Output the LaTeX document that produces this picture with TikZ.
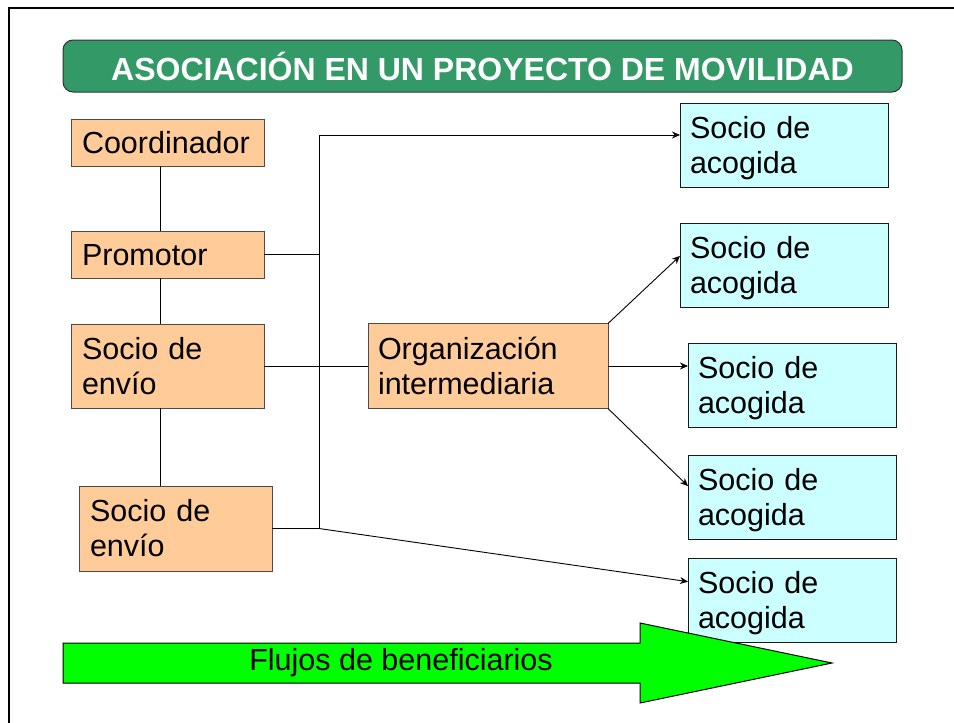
\documentclass[tikz,border=0pt]{standalone}
\usepackage{fontspec}
\setmainfont{Liberation Sans}
\usetikzlibrary{positioning,arrows.meta}

\definecolor{titleGreen}{RGB}{51,153,102}
\definecolor{partnerOrange}{RGB}{255,204,153}
\definecolor{hostCyan}{RGB}{204,255,255}
\definecolor{flowGreen}{RGB}{0,255,0}

\begin{document}
\begin{tikzpicture}[
        x=1pt, y=-1pt,
        font=\fontsize{30.5}{35}\selectfont,
        >={Stealth[length=8pt,width=7pt]},
        every edge/.append style={line width=0.9pt},
        linebox/.style={
            execute at begin node={\rule{0pt}{28pt}},
            execute at end node={\rule[-6.5pt]{0pt}{0pt}}
        },
        heading/.style={
            % The shape
            rectangle,
            rounded corners=10pt,
            minimum width=839pt,
            minimum height=52pt,
            % The border
            line width=1pt,
            draw = black!80,
            % The color
            fill = titleGreen,
            text = white,
            % Font
            font = \bfseries\fontsize{32}{38}\selectfont
        },
        partner/.style={
            % The shape
            rectangle,
            outer sep=0pt,
            inner ysep=0pt,
            inner xsep=11pt,
            text width=171pt,
            minimum height=47pt,
            linebox,
            % The border
            line width=1pt,
            draw = black!70,
            % The color
            fill = partnerOrange
        },
        host/.style={
            % The shape
            rectangle,
            outer sep=0pt,
            inner ysep=0pt,
            inner xsep=10pt,
            text width=188pt,
            minimum height=84pt,
            linebox,
            % The border
            line width=1pt,
            draw = black!90,
            % The color
            fill = hostCyan
        },
    ]
        \useasboundingbox (0,0) rectangle (954,723);
        \draw[line width=2pt] (9,8) rectangle (990,760);

        \node (title) [heading] at (482.5,66) {ASOCIACIÓN EN UN PROYECTO DE MOVILIDAD};

        \node (coordinator) [partner,align=left,anchor=north west] at (71,119) {Coordinador};
        \node (promoter) [partner,align=left,below=65pt of coordinator] {Promotor};
        \node (sendingOne) [partner,align=left,minimum height=84pt,below=46pt of promoter] {Socio de \\ envío};
        \node (sendingTwo) [partner,align=left,minimum height=85pt,below=78pt of sendingOne,xshift=8pt] {Socio de \\ envío};
        \coordinate (trunk) at (160,0);
        \path (coordinator.south -| trunk) edge (promoter.north -| trunk);
        \path (promoter.south -| trunk) edge (sendingOne.north -| trunk);
        \path (sendingOne.south -| trunk) edge (sendingTwo.north -| trunk);

        \node (intermediary) [partner,align=left,text width=220pt,inner xsep=10pt,minimum height=85pt,right=104pt of sendingOne] {Organización \\ intermediaria};

        \node (host_a) [host,align=left,anchor=north west] at (680,103) {Socio de \\ acogida};
        \node (host_b) [host,align=left,below=36pt of host_a] {Socio de \\ acogida};
        \node (host_c) [host,align=left,below=36pt of host_b,xshift=8pt] {Socio de \\ acogida};
        \node (host_d) [host,align=left,below=28pt of host_c] {Socio de \\ acogida};
        \node (host_e) [host,align=left,below=19pt of host_d] {Socio de \\ acogida};

        % the bus on the left
        \coordinate (busTop) at (319,135);
        \coordinate (busBottom) at (sendingTwo.east -| busTop);
        \path (busTop) edge (busBottom);
        \path (promoter.east) edge (promoter.east -| busTop);
        \path (sendingTwo.east) edge (busBottom);
        \path (sendingOne.east) edge (sendingOne.east -| intermediary.west);
        \path (busTop) edge[->] (busTop -| host_a.west);
        \path (busBottom) edge[->] (host_e.170);

        % from the intermediary
        \path (intermediary.north east) edge[->] (host_b.175);
        \path (intermediary.east) edge[->] (intermediary.east -| host_c.west);
        \path (intermediary.south east) edge[->] (host_d.174);

        % flow of participants
        \draw[line width=1pt,fill=flowGreen] (63,643) -- (640,643) -- (640,623) -- (832,663)
            -- (640,703) -- (640,683) -- (63,683) -- cycle;
        \node (flows) at (401,663) {Flujos de beneficiarios};

    \end{tikzpicture}
\end{document}
